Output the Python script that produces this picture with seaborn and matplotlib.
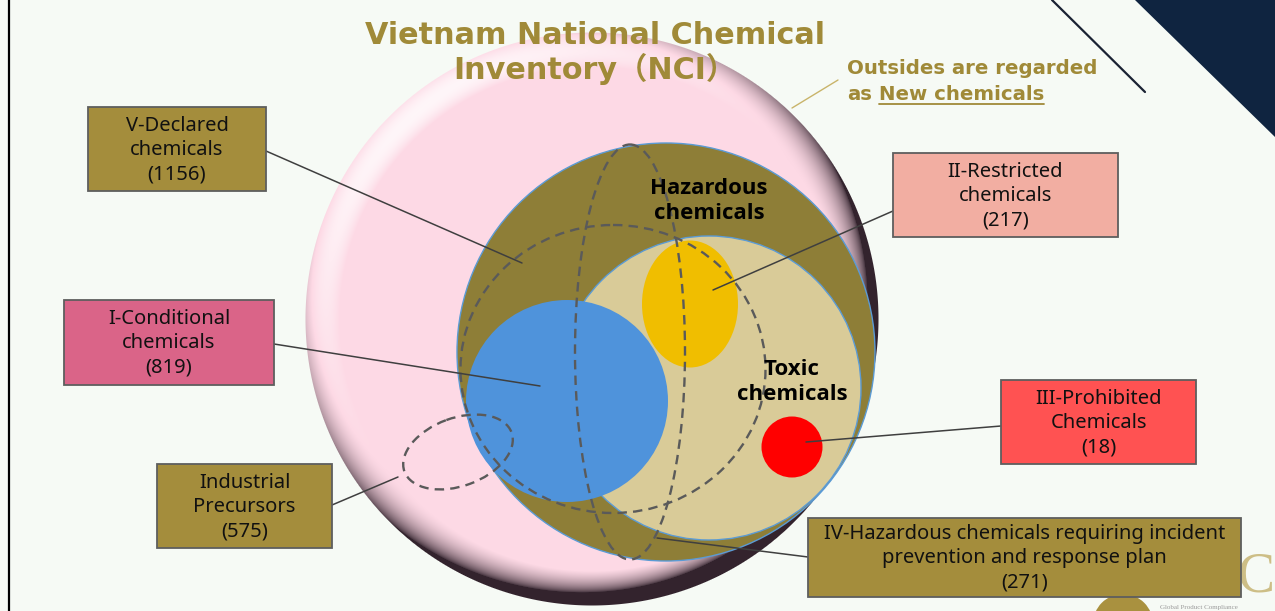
"""
Vietnam National Chemical Inventory (NCI) — nested category diagram.
"""

import numpy as np
import matplotlib
matplotlib.use("Agg")  # headless rendering
import matplotlib.pyplot as plt
from matplotlib.patches import Circle, Ellipse, Rectangle, Polygon
import seaborn as sns

# ─── Data ─────────────────────────────────────────────────────────────────────
CATEGORIES = [
    "V-Declared\nchemicals",
    "I-Conditional\nchemicals",
    "Industrial\nPrecursors",
    "II-Restricted\nchemicals",
    "III-Prohibited\nChemicals",
    "IV-Hazardous chemicals requiring incident\nprevention and response plan",
]
COUNTS = [1156, 819, 575, 217, 18, 271]
BOX_COLOURS = ["#A48D3C", "#DA6488", "#A48D3C", "#F2AEA2", "#FF5252", "#A48D3C"]

GROUP_LABELS = ["Hazardous\nchemicals", "Toxic\nchemicals"]
TITLE = "Vietnam National Chemical\nInventory\uff08NCI\uff09"

# ─── Layout (pixel space, y downwards) ────────────────────────────────────────
W, H = 1275, 611
BG = "#F6FAF5"
GOLD = "#A08A38"

BOX_XY = [(88, 107, 266, 191), (64, 300, 274, 385), (157, 464, 332, 548),
          (893, 153, 1118, 237), (1001, 380, 1196, 464), (808, 518, 1241, 597)]
LEADERS = [((266, 151), (522, 263)), ((274, 344), (540, 386)),
           ((332, 505), (398, 477)), ((893, 211), (713, 290)),
           ((1001, 426), (806, 442)), ((808, 557), (657, 538))]

sns.set_theme(style="white", rc={"axes.facecolor": BG, "figure.facecolor": BG})


def bevel_disc(radius, base, light=(-0.45, -0.55, 0.7), start=0.88):
    """RGBA image of a flat disc with a rounded, lit rim."""
    n = int(2 * radius)
    g = np.linspace(-1, 1, n)
    X, Y = np.meshgrid(g, g)
    r = np.hypot(X, Y)
    t = np.clip((r - start) / (1 - start), 0, 1)
    th = t * np.pi / 2 * 0.93
    rr = np.where(r == 0, 1, r)
    nx, ny, nz = X / rr * np.sin(th), Y / rr * np.sin(th), np.cos(th)
    lx, ly, lz = light
    d = ((nx * lx + ny * ly + nz * lz) / lz)[..., None]
    base = np.array(base)
    dark = np.array((0.2, 0.14, 0.18))
    k = np.clip(d, 0, 1) ** 0.6
    rgb = np.where(d >= 1,
                   base + (1 - base) * np.clip((d - 1) * 1.8, 0, 0.9),
                   dark + (base - dark) * k)
    alpha = np.clip((1 - r) * radius + 0.5, 0, 1)
    return np.dstack([rgb, alpha])


fig = plt.figure(figsize=(W / 100, H / 100), dpi=100, facecolor=BG)
ax = fig.add_axes([0, 0, 1, 1])

# outer NCI disc
cx, cy, R = 592, 319, 287
ax.imshow(bevel_disc(R, (253 / 255, 217 / 255, 229 / 255)),
          extent=(cx - R, cx + R, cy + R, cy - R), origin="upper",
          interpolation="bilinear", zorder=1)

# nested sets
ax.add_patch(Circle((666, 352), 209, fc="#8E7E37", ec="#5B9BD5", lw=1, zorder=2))
ax.add_patch(Circle((709, 388), 152, fc="#D9CB98", ec="#5B9BD5", lw=1, zorder=3))
ax.add_patch(Circle((567, 401), 101, fc="#4F93DB", ec="none", zorder=4))
ax.add_patch(Ellipse((690, 304), 96, 127, fc="#F0BE00", ec="none", zorder=4))
ax.add_patch(Circle((792, 447), 30.5, fc="#FF0000", ec="none", zorder=4))

# dashed (overlapping) sets
dash = dict(fc="none", ec="#5A5A5A", lw=1.7, ls=(0, (4, 2.6)), zorder=5)
ax.add_patch(Ellipse((630, 352), 110, 415, **dash))
ax.add_patch(Ellipse((613, 369), 305, 288, **dash))
ax.add_patch(Ellipse((458, 452), 114, 68, angle=-20, **dash))

# group labels
grp = dict(ha="center", va="center", fontsize=16, fontweight="bold",
           family="Open Sans", color="black", linespacing=1.2, zorder=6)
ax.text(709, 201, GROUP_LABELS[0], **grp)
ax.text(792, 382, GROUP_LABELS[1], **grp)

# logo fragment (bottom right)
ax.add_patch(Circle((1123, 624), 30, fc="#A9913F", ec="none", zorder=1))
ax.text(1238, 578, "C", ha="left", va="center", fontsize=40, family="Liberation Serif",
        color="#CDBE86", zorder=1)
ax.text(1160, 607, "Global Product Compliance", ha="left", va="center", fontsize=5,
        family="Liberation Serif", color="#9A9A9A", zorder=1)

# category boxes + leaders
for name, n, col, (x0, y0, x1, y1), (p0, p1) in zip(CATEGORIES, COUNTS, BOX_COLOURS,
                                                   BOX_XY, LEADERS):
    ax.plot([p0[0], p1[0]], [p0[1], p1[1]], color="#3F3F3F", lw=1.1, zorder=7)
    ax.add_patch(Rectangle((x0, y0), x1 - x0, y1 - y0, fc=col, ec="#5E5E5E",
                           lw=1.3, zorder=8))
    ax.text((x0 + x1) / 2, (y0 + y1) / 2 + 1, f"{name}\n({n})", ha="center",
            va="center", fontsize=14.5, family="Noto Sans", color="#111111",
            linespacing=1.28, zorder=9)

# title + note
ax.text(595, 53, TITLE, ha="center", va="center", fontsize=21.8, fontweight="bold",
        family=["DejaVu Sans", "Noto Sans CJK JP"], color=GOLD, linespacing=1.15,
        zorder=10)
ax.plot([792, 838], [108, 80], color="#C9B46A", lw=1, zorder=10)
note = dict(fontsize=14.2, fontweight="bold", family="DejaVu Sans", color=GOLD,
            ha="left", va="center", zorder=10)
ax.text(847, 69, "Outsides are regarded", **note)
ax.text(847, 95, "as", **note)
t_new = ax.text(879, 95, "New chemicals", **note)

# top-right decoration and left border
ax.add_patch(Polygon([(1135, 0), (W, 0), (W, 137)], closed=True, fc="#0F2440",
                     ec="none", zorder=10))
ax.plot([1052, 1145], [0, 92], color="#1A2233", lw=1.6, zorder=10)
ax.plot([9, 9], [0, H], color="black", lw=1.6, zorder=10)

ax.set_xlim(0, W)
ax.set_ylim(H, 0)
ax.axis("off")

# underline "New chemicals"
fig.canvas.draw()
bb = t_new.get_window_extent().transformed(ax.transData.inverted())
ax.plot([bb.x0, bb.x1], [104, 104], color=GOLD, lw=1.3, zorder=10)

fig.savefig("out.png", dpi=100, facecolor=BG)
plt.close(fig)
